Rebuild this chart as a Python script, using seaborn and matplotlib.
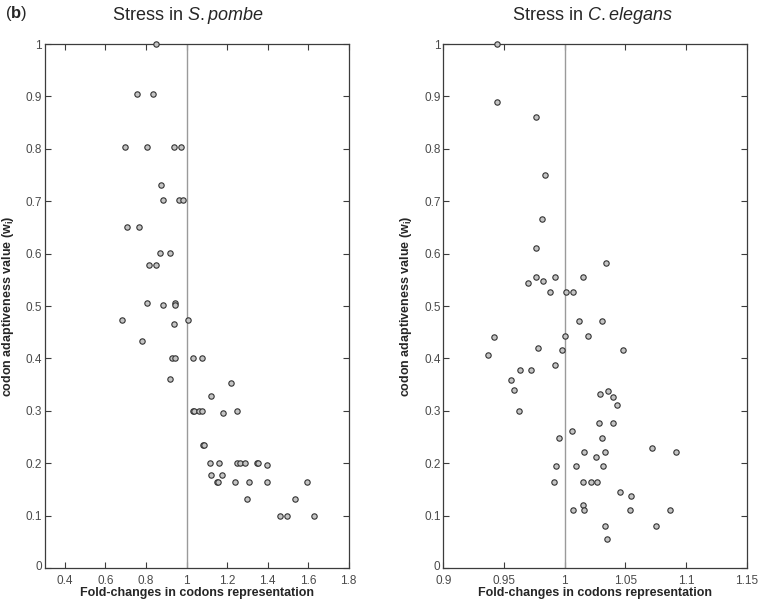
import matplotlib
matplotlib.use("Agg")
import matplotlib.pyplot as plt
import matplotlib.transforms as mtransforms
import seaborn as sns
import pandas as pd

# ---- data: S.pombe ----
pombe_fold = [0.849, 0.754, 0.834, 0.696, 0.803, 0.939, 0.971, 0.872, 0.882, 0.963,
              0.984, 0.705, 0.767, 0.869, 0.918, 0.816, 0.849, 0.803, 0.885, 0.943,
              0.943, 0.680, 1.009, 0.939, 0.782, 0.926, 0.943, 1.030, 1.075, 0.918,
              1.218, 1.120, 1.030, 1.037, 1.063, 1.076, 1.178, 1.250, 1.083, 1.088,
              1.117, 1.160, 1.247, 1.265, 1.288, 1.349, 1.354, 1.397, 1.120, 1.173,
              1.149, 1.157, 1.240, 1.306, 1.397, 1.593, 1.300, 1.533, 1.462, 1.497,
              1.627]
pombe_w = [1.000, 0.904, 0.904, 0.803, 0.803, 0.803, 0.803, 0.731, 0.702, 0.702,
           0.702, 0.650, 0.650, 0.602, 0.602, 0.578, 0.578, 0.505, 0.501, 0.505,
           0.501, 0.473, 0.473, 0.465, 0.433, 0.400, 0.400, 0.400, 0.400, 0.361,
           0.354, 0.328, 0.300, 0.300, 0.300, 0.300, 0.295, 0.300, 0.235, 0.235,
           0.200, 0.200, 0.200, 0.200, 0.200, 0.200, 0.200, 0.197, 0.177, 0.177,
           0.164, 0.164, 0.164, 0.164, 0.164, 0.164, 0.132, 0.132, 0.099, 0.099,
           0.099]

# ---- data: C.elegans ----
elegans_fold = [0.944, 0.944, 0.976, 0.984, 0.981, 0.976, 1.034, 0.976, 0.992, 1.015,
                0.970, 0.982, 0.988, 1.001, 1.007, 1.012, 1.031, 0.942, 1.000, 1.019,
                0.978, 0.998, 1.048, 0.937, 0.992, 0.963, 0.972, 0.956, 0.958, 0.962,
                1.029, 1.036, 1.040, 1.043, 1.028, 1.040, 1.006, 0.995, 1.031, 1.072,
                1.016, 1.033, 1.092, 1.026, 0.993, 1.009, 1.032, 0.991, 1.015, 1.022,
                1.027, 1.046, 1.055, 1.015, 1.007, 1.016, 1.054, 1.087, 1.033, 1.075,
                1.035]
elegans_w = [1.000, 0.889, 0.861, 0.750, 0.666, 0.611, 0.583, 0.556, 0.556, 0.556,
             0.543, 0.548, 0.527, 0.527, 0.527, 0.472, 0.472, 0.440, 0.443, 0.442,
             0.419, 0.416, 0.416, 0.407, 0.388, 0.378, 0.378, 0.359, 0.340, 0.300,
             0.333, 0.338, 0.327, 0.311, 0.277, 0.277, 0.261, 0.249, 0.249, 0.230,
             0.221, 0.221, 0.221, 0.212, 0.194, 0.194, 0.194, 0.165, 0.165, 0.165,
             0.165, 0.146, 0.138, 0.120, 0.110, 0.110, 0.110, 0.110, 0.081, 0.081,
             0.056]

pombe_xticks = [0.4, 0.6, 0.8, 1.0, 1.2, 1.4, 1.6, 1.8]
pombe_xlabels = ["0.4", "0.6", "0.8", "1", "1.2", "1.4", "1.6", "1.8"]
elegans_xticks = [0.9, 0.95, 1.0, 1.05, 1.1, 1.15]
elegans_xlabels = ["0.9", "0.95", "1", "1.05", "1.1", "1.15"]
yticks = [0, 0.1, 0.2, 0.3, 0.4, 0.5, 0.6, 0.7, 0.8, 0.9, 1.0]
ylabels = ["0", "0.1", "0.2", "0.3", "0.4", "0.5", "0.6", "0.7", "0.8", "0.9", "1"]

sns.set_style("white")
plt.rcParams["font.family"] = ["Liberation Sans", "DejaVu Sans"]
plt.rcParams["mathtext.fontset"] = "custom"
plt.rcParams["mathtext.rm"] = "Liberation Sans"
plt.rcParams["mathtext.it"] = "Liberation Sans:italic"
plt.rcParams["mathtext.bf"] = "Liberation Sans:bold"

fig = plt.figure(figsize=(7.6, 6.03), dpi=100)
ax1 = fig.add_axes([0.0588, 0.058, 0.400, 0.869])
ax2 = fig.add_axes([0.5833, 0.058, 0.3992, 0.869])

df1 = pd.DataFrame({"fold": pombe_fold, "w": pombe_w})
df2 = pd.DataFrame({"fold": elegans_fold, "w": elegans_w})

spine_col = "#3c3c3c"
tick_col = "#4a4a4a"

for ax, df, xlim, xt, xl in [(ax1, df1, (0.3, 1.8), pombe_xticks, pombe_xlabels),
                             (ax2, df2, (0.9, 1.15), elegans_xticks, elegans_xlabels)]:
    ax.axvline(1.0, color="#9a9a9a", lw=1.0, zorder=1)
    sns.scatterplot(data=df, x="fold", y="w", ax=ax, s=15, marker="o",
                    color="#c4c4c4", edgecolor="#333333", linewidth=0.8,
                    zorder=3, clip_on=False, legend=False)
    ax.set_xlim(*xlim)
    ax.set_ylim(0, 1)
    ax.set_xticks(xt)
    ax.set_xticklabels(xl)
    ax.set_yticks(yticks)
    ax.set_yticklabels(ylabels)
    ax.tick_params(direction="in", length=4, width=0.8, color=spine_col,
                   labelsize=8.5, labelcolor=tick_col, top=True, right=True,
                   bottom=True, left=True, pad=2)
    ax.tick_params(axis="x", pad=5)
    # nudge the "0" y tick label up slightly so it clears the x tick labels
    lab0 = ax.get_yticklabels()[0]
    lab0.set_transform(lab0.get_transform() +
                       mtransforms.ScaledTranslation(0, 2 / 72, fig.dpi_scale_trans))
    for sp in ax.spines.values():
        sp.set_visible(True)
        sp.set_color(spine_col)
        sp.set_linewidth(0.9)
    ax.set_xlabel("Fold-changes in codons representation", fontsize=9,
                  fontweight="bold", labelpad=0)
    ax.set_ylabel(r"codon adaptiveness value (w$_{\mathbf{i}}$)", fontsize=9,
                  fontweight="bold", labelpad=7)

ax1.set_title(r"Stress in $\mathit{S.pombe}$", fontsize=13, pad=17, x=0.47)
ax2.set_title(r"Stress in $\mathit{C.elegans}$", fontsize=13, pad=17, x=0.49)
fig.text(0.006, 0.977, r"($\mathbf{b}$)", fontsize=12, ha="left", va="center")

fig.savefig("out.png", dpi=100)
